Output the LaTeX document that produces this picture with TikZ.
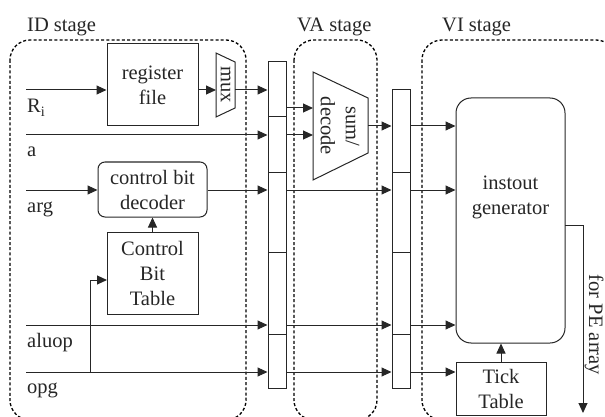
\documentclass[tikz,border=0pt]{standalone}
\usepackage{fontspec}
\setmainfont{Liberation Serif}
\usetikzlibrary{arrows.meta}
\begin{document}
\begin{tikzpicture}[x=1pt,y=-1pt,
  every node/.style={font=\fontsize{20.5}{25}\selectfont, inner sep=0pt, text=black!85},
  box/.style={draw=black!85, line width=1pt, align=center},
  arr/.style={draw=black!85, line width=1pt, -{Triangle[length=10pt,width=9pt]}},
  ln/.style={draw=black!85, line width=1pt},
  stagebox/.style={draw=black, line width=1.3pt, dash pattern=on 3pt off 2.2pt, rounded corners=20pt},
  lbl/.style={anchor=base west}]
\useasboundingbox (0,0) rectangle (605,417);
\clip (0,0) rectangle (605,417);

% stage regions
\draw[stagebox] (10,40) rectangle (246,420);
\draw[stagebox] (294,40) rectangle (377,420);
\draw[stagebox] (422,40) rectangle (616,420);
\node[lbl] (idl) at (27,32) {ID stage};
\node[lbl] (val) at (297,32) {VA stage};
\node[lbl] (vil) at (442,32) {VI stage};

% ID stage blocks
\node[box, minimum width=91pt, minimum height=82pt] (rf) at (152.5,85) {register\\file};
\draw[ln] (216,53) -- (235,62) -- (235,108) -- (216,117) -- cycle;
\node[rotate=-90] (muxt) at (225.5,85) {mux};
\coordinate (muxW) at (216,90);
\coordinate (muxE) at (235,90);
\node[box, rounded corners=7pt, minimum width=109pt, minimum height=55pt] (cbd) at (152.5,189.5) {control bit\\decoder};
\node[box, minimum width=91pt, minimum height=82pt] (cbt) at (152.5,273) {Control\\Bit\\Table};

% pipeline registers
\node[box, minimum width=18pt, minimum height=326pt] (reg1) at (277,225) {};
\foreach \yy in {117,172,252,334} \draw[ln] (268,\yy) -- (286,\yy);
\node[box, minimum width=18pt, minimum height=298pt] (reg2) at (401,239) {};
\foreach \yy in {172,252,334} \draw[ln] (392,\yy) -- (410,\yy);

% sum/decode
\draw[ln] (313,72) -- (368,98) -- (368,153) -- (313,180) -- cycle;
\node[rotate=-90, align=center] (sdt) at (340,126) {sum/\\decode};
\coordinate (sdW1) at (313,108);
\coordinate (sdW2) at (313,135);
\coordinate (sdE) at (368,126);

% VI stage
\node[box, rounded corners=15pt, minimum width=109pt, minimum height=245pt] (io) at (510.5,220.5) {};
\node[align=center] (iot) at (510.5,197) {instout\\generator};
\node[box, minimum width=90pt, minimum height=53pt] (tick) at (501,388.5) {Tick\\Table};

% inputs
\coordinate (ri) at (26,90);
\coordinate (a) at (26,135);
\coordinate (arg) at (26,190);
\coordinate (aluop) at (26,325);
\coordinate (opg) at (26,372);
\node[lbl] (ril) at (27,113) {R\textsubscript{i}};
\node[lbl] (al) at (27,157) {a};
\node[lbl] (argl) at (27,212) {arg};
\node[lbl] (aluopl) at (27,347) {aluop};
\node[lbl] (opgl) at (27,393) {opg};

\draw[arr] (ri) -- (ri -| rf.west);
\draw[arr] (rf.east |- ri) -- (muxW);
\draw[arr] (muxE) -- (muxE -| reg1.west);
\draw[arr] (a) -- (a -| reg1.west);
\draw[arr] (arg) -- (arg -| cbd.west);
\draw[arr] (cbd.east |- arg) -- (arg -| reg1.west);
\draw[arr] (cbt.north) -- (cbd.south);
\draw[arr] (aluop) -- (aluop -| reg1.west);
\draw[arr] (opg) -- (opg -| reg1.west);
\coordinate (br) at (90,372);
\coordinate (brT) at (107,280);
\draw[arr] (br) |- (brT);

% VA stage connections
\draw[arr] (reg1.east |- sdW1) -- (sdW1);
\draw[arr] (reg1.east |- sdW2) -- (sdW2);
\draw[arr] (sdE) -- (sdE -| reg2.west);
\draw[arr] (reg1.east |- arg) -- (arg -| reg2.west);
\draw[arr] (reg1.east |- aluop) -- (aluop -| reg2.west);
\draw[arr] (reg1.east |- opg) -- (opg -| reg2.west);

% VI stage connections
\draw[arr] (reg2.east |- sdE) -- (sdE -| io.west);
\draw[arr] (reg2.east |- arg) -- (arg -| io.west);
\draw[arr] (reg2.east |- aluop) -- (aluop -| io.west);
\draw[arr] (reg2.east |- opg) -- (opg -| tick.west);
\draw[arr] (tick.north) -- (tick.north |- io.south);

% output
\coordinate (ioOut) at (565,225);
\coordinate (pe) at (583,413);
\draw[arr] (ioOut) -| (pe);
\node[rotate=-90] (pel) at (594,325) {for PE array};
\end{tikzpicture}
\end{document}
